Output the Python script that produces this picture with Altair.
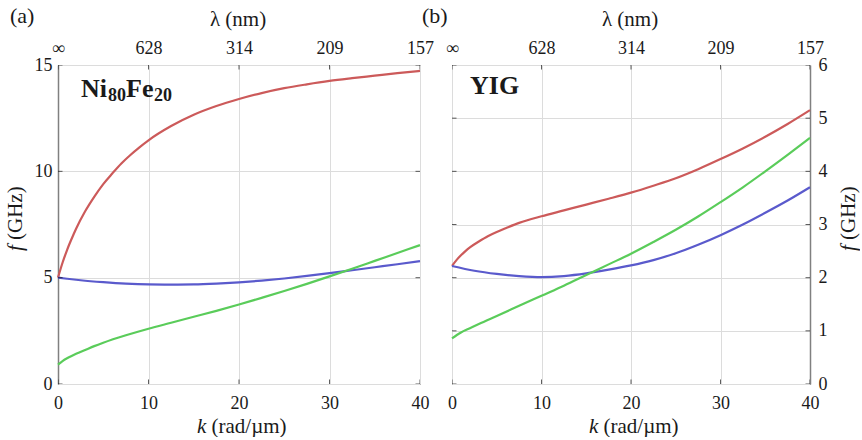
import altair as alt
import pandas as pd

# ---------------- data ----------------
k_ticks = [0, 10, 20, 30, 40]
lam_labels = ["∞", "628", "314", "209", "157"]
f_ticks_a = [0, 5, 10, 15]
f_ticks_b = [0, 1, 2, 3, 4, 5, 6]

# (a) Ni80Fe20
k_red_a = [0, 0.5, 1, 1.5, 2, 3, 4, 5, 6, 7, 8, 9, 10, 12.5, 15, 17.5, 20, 22.5, 25,
           27.5, 30, 32.5, 35, 37.5, 40]
red_a = [5.0, 5.7, 6.3, 6.82, 7.3, 8.12, 8.8, 9.4, 9.9, 10.37, 10.77, 11.13, 11.46, 12.13,
         12.66, 13.07, 13.4, 13.68, 13.91, 14.09, 14.25, 14.38, 14.5, 14.62, 14.72]
k_blue_a = [0, 1, 2.5, 5, 7.5, 10, 12.5, 15, 17.5, 20, 22.5, 25, 27.5, 30, 32.5, 35, 37.5, 40]
blue_a = [5.0, 4.95, 4.88, 4.79, 4.72, 4.68, 4.67, 4.68, 4.72, 4.78, 4.86, 4.96, 5.08, 5.21,
          5.35, 5.49, 5.63, 5.78]
k_green_a = [0, 0.5, 1, 1.5, 2, 3, 4, 5, 7.5, 10, 12.5, 15, 17.5, 20, 22.5, 25, 27.5, 30,
             32.5, 35, 37.5, 40]
green_a = [0.91, 1.08, 1.21, 1.32, 1.42, 1.60, 1.78, 1.94, 2.29, 2.60, 2.88, 3.16, 3.44, 3.74,
           4.05, 4.37, 4.71, 5.06, 5.42, 5.79, 6.16, 6.53]

# (b) YIG
k_red_b = [0, 0.5, 1, 1.5, 2, 3, 4, 5, 6, 7.5, 10, 12.5, 15, 17.5, 20, 22.5, 25, 27.5, 30,
           32.5, 35, 37.5, 40]
red_b = [2.22, 2.33, 2.42, 2.50, 2.57, 2.68, 2.78, 2.86, 2.93, 3.03, 3.155, 3.265, 3.375,
         3.485, 3.60, 3.73, 3.87, 4.04, 4.23, 4.43, 4.65, 4.89, 5.15]
k_blue_b = [0, 2.5, 5, 7.5, 10, 12.5, 15, 17.5, 20, 22.5, 25, 27.5, 30, 32.5, 35, 37.5, 40]
blue_b = [2.22, 2.13, 2.07, 2.03, 2.01, 2.03, 2.08, 2.15, 2.23, 2.33, 2.46, 2.62, 2.80, 3.00,
          3.22, 3.45, 3.70]
k_green_b = [0, 1, 2, 3, 5, 7.5, 10, 12.5, 15, 17.5, 20, 22.5, 25, 27.5, 30, 32.5, 35, 37.5, 40]
green_b = [0.86, 0.97, 1.05, 1.13, 1.28, 1.47, 1.66, 1.85, 2.05, 2.25, 2.45, 2.67, 2.90, 3.15,
           3.42, 3.70, 4.00, 4.31, 4.63]

series_names = ["red", "blue", "green"]
series_colors = ["#cc5a5a", "#5a5acc", "#5acc5a"]

# ---------------- style ----------------
FONT = "Liberation Serif, DejaVu Serif, serif"
DARK = "#1a1a1a"
GRID = "#dcdcdc"
W_A, W_B, H = 362, 358, 319
TICK_FS = 18
TITLE_FS = 21


def long_df(series):
    rows = []
    for name, (ks, vals) in series.items():
        for kk, v in zip(ks, vals):
            rows.append({"k": kk, "f": v, "s": name})
    return pd.DataFrame(rows)


def txt(s, x, y, size, weight="normal", style="normal", align="left", angle=0):
    return alt.Chart(pd.DataFrame({"t": [s]})).mark_text(
        font=FONT, fontSize=size, fontWeight=weight, fontStyle=style,
        align=align, baseline="alphabetic", angle=angle, color=DARK,
    ).encode(text="t:N", x=alt.value(x), y=alt.value(y))


lam_expr = "[" + ",".join("'%s'" % s for s in lam_labels) + "][indexof([" + \
    ",".join(str(v) for v in k_ticks) + "], datum.value)]"


def panel(series, fmax, fticks, W, side, name_layers, letter, letter_x):
    df = long_df(series)
    xscale = alt.Scale(domain=[0, 40], nice=False, zero=False)
    yscale = alt.Scale(domain=[0, fmax], nice=False, zero=False)

    x_bottom = alt.Axis(values=k_ticks, title=None, grid=True, gridColor=GRID, gridWidth=1,
                        ticks=False, tickSize=0, domain=False, labelFont=FONT,
                        labelFontSize=TICK_FS, labelColor=DARK, labelBaseline="alphabetic",
                        labelPadding=24, labelFlush=False, labelOverlap=False, format="d")
    y_axis = alt.Axis(values=fticks, orient=side, title=None, grid=True, gridColor=GRID,
                      gridWidth=1, ticks=False, tickSize=0, domain=True, domainColor="#808080",
                      domainWidth=1.5, labelFont=FONT, labelFontSize=TICK_FS, labelColor=DARK,
                      labelPadding=6 if side == "left" else 8, labelFlush=False,
                      labelOverlap=False, format="d")
    x_top = alt.Axis(orient="top", values=k_ticks, title=None, grid=False, ticks=False,
                     tickSize=0, domain=False, labelFont=FONT, labelFontSize=TICK_FS,
                     labelColor=DARK, labelBaseline="alphabetic", labelPadding=12,
                     labelFlush=False, labelOverlap=False, labelExpr=lam_expr)

    lines = alt.Chart(df).mark_line(strokeWidth=2.2, interpolate="monotone").encode(
        x=alt.X("k:Q", scale=xscale, axis=x_bottom),
        y=alt.Y("f:Q", scale=yscale, axis=y_axis),
        color=alt.Color("s:N", scale=alt.Scale(domain=series_names, range=series_colors),
                        legend=None),
        detail="s:N",
    )
    tk = pd.DataFrame({"k": k_ticks})
    tf = pd.DataFrame({"f": fticks})
    top = alt.Chart(tk).mark_point(opacity=0).encode(x=alt.X("k:Q", scale=xscale, axis=x_top))
    tstyle = dict(size=9, thickness=1, color=DARK, clip=True)
    tb = alt.Chart(tk).mark_tick(**tstyle).encode(
        x=alt.X("k:Q", scale=xscale, axis=None), y=alt.value(H))
    tt = alt.Chart(tk).mark_tick(**tstyle).encode(
        x=alt.X("k:Q", scale=xscale, axis=None), y=alt.value(0))
    tl = alt.Chart(tf).mark_tick(**tstyle).encode(
        y=alt.Y("f:Q", scale=yscale, axis=None), x=alt.value(0))
    tr = alt.Chart(tf).mark_tick(**tstyle).encode(
        y=alt.Y("f:Q", scale=yscale, axis=None), x=alt.value(W))

    # axis titles and labels
    cx = W / 2
    bot_k = txt("k", cx - 42, H + 48.5, TITLE_FS, style="italic")
    bot_rest = txt("(rad/µm)", cx - 42 + 14.5, H + 48.5, TITLE_FS)
    lam = txt("λ (nm)", cx - 1, -39, TITLE_FS, align="center")
    yx = -36 if side == "left" else W + 45
    yf = txt("f", yx, 186, TITLE_FS, style="italic", angle=270)
    yrest = txt("(GHz)", yx, 175, TITLE_FS, angle=270)
    lab = txt(letter, letter_x, -42, 22)

    layers = [lines, top, tb, tt, tl, tr, bot_k, bot_rest, lam, yf, yrest, lab] + name_layers
    return alt.layer(*layers).resolve_axis(x="independent", y="independent").properties(
        width=W, height=H)


name_a = [
    txt("Ni", 23, 32, 26, weight="bold"),
    txt("80", 50, 36, 18, weight="bold"),
    txt("Fe", 68, 32, 26, weight="bold"),
    txt("20", 96, 36, 18, weight="bold"),
]
name_b = [txt("YIG", 18, 29, 26, weight="bold")]

pa = panel({"red": (k_red_a, red_a), "blue": (k_blue_a, blue_a), "green": (k_green_a, green_a)},
           15, f_ticks_a, W_A, "left", name_a, "(a)", -48)
pb = panel({"red": (k_red_b, red_b), "blue": (k_blue_b, blue_b), "green": (k_green_b, green_b)},
           6, f_ticks_b, W_B, "right", name_b, "(b)", -30)

chart = alt.hconcat(pa, pb, spacing=32, bounds="flush").configure_view(
    stroke=DARK, strokeWidth=1
).properties(padding={"left": 4, "top": 4, "right": 0, "bottom": 0}, background="white")

chart.save("out.html", embed_options={"renderer": "svg", "actions": False})
